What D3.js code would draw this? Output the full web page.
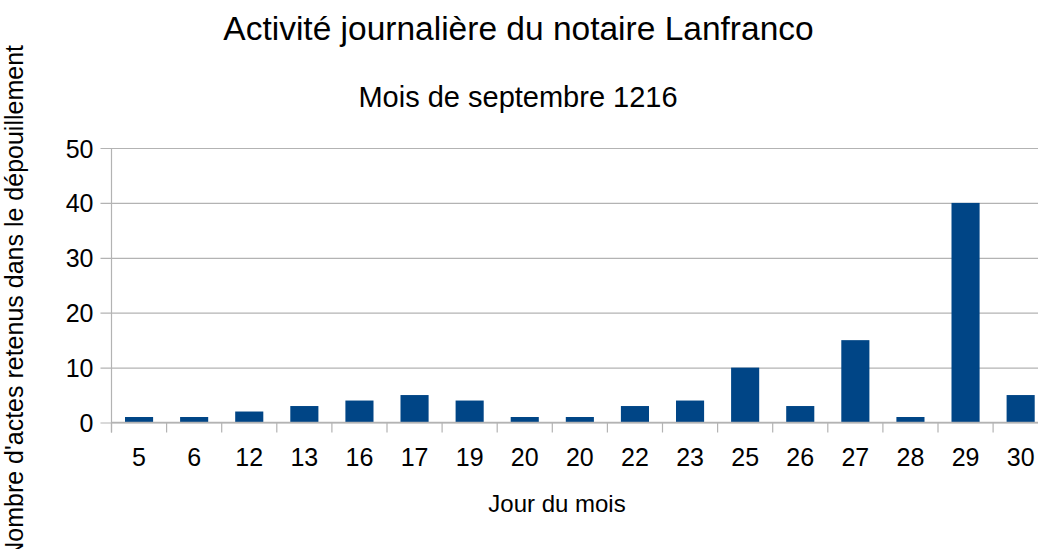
<!DOCTYPE html>
<html>
<head>
<meta charset="utf-8">
<script src="https://cdn.jsdelivr.net/npm/d3@7"></script>
<style>
  body { margin: 0; background: #fff; overflow: hidden; }
  svg { display: block; font-family: "Liberation Sans", Arial, sans-serif; }
</style>
</head>
<body>
<div id="chart"></div>
<script>
// Data
const days = ["5", "6", "12", "13", "16", "17", "19", "20", "20", "22", "23", "25", "26", "27", "28", "29", "30"];
const counts = [1, 1, 2, 3, 4, 5, 4, 1, 1, 3, 4, 10, 3, 15, 1, 40, 5];
const yTicks = [0, 10, 20, 30, 40, 50];

// SVG Variables
const width = 1038;
const height = 549;
const plotLeft = 111.5;
const plotTop = 148;
const plotBottom = 422.5;
const step = 55.1;
const plotRight = plotLeft + step * days.length; // runs past the window edge, like the reference
const gridColor = "#b3b3b3";
const barColor = "#004586";

const svg = d3
  .select("#chart")
  .append("svg")
  .attr("width", width)
  .attr("height", height);

// Scales
const xScale = d3
  .scaleBand()
  .domain(days.map((d, i) => i)) // index domain, "20" appears twice
  .range([plotLeft, plotRight])
  .paddingInner(0.49)
  .paddingOuter(0.245);
const yScale = d3.scaleLinear().domain([0, 50]).range([plotBottom, plotTop]);

// Gridlines + y axis
const yAxis = d3
  .axisLeft(yScale)
  .tickValues(yTicks)
  .tickSize(-(plotRight - plotLeft + 11))
  .tickPadding(8);
const gy = svg
  .append("g")
  .attr("transform", `translate(${plotLeft - 11}, 0)`)
  .call(yAxis);
gy.select(".domain").remove();
gy.selectAll(".tick line").attr("stroke", gridColor).attr("stroke-width", 1.2);
gy.selectAll(".tick text")
  .attr("font-size", 25)
  .attr("fill", "#000")
  .attr("x", -7)
  .attr("dy", "0.36em");

// vertical axis line
svg
  .append("line")
  .attr("x1", plotLeft)
  .attr("x2", plotLeft)
  .attr("y1", plotTop)
  .attr("y2", plotBottom + 10)
  .attr("stroke", gridColor)
  .attr("stroke-width", 1.2);

// Bars
svg
  .selectAll("rect.bar")
  .data(counts)
  .enter()
  .append("rect")
  .attr("class", "bar")
  .attr("x", (d, i) => xScale(i))
  .attr("y", (d) => yScale(d))
  .attr("width", xScale.bandwidth())
  .attr("height", (d) => yScale(0) - yScale(d))
  .attr("fill", barColor);

// X axis (labels centred on bands, ticks on band boundaries)
const xAxis = d3
  .axisBottom(xScale)
  .tickFormat((i) => days[i])
  .tickSize(0)
  .tickPadding(0);
const gx = svg
  .append("g")
  .attr("transform", `translate(0, ${plotBottom})`)
  .call(xAxis);
gx.select(".domain").remove();
gx.selectAll(".tick text")
  .attr("font-size", 25)
  .attr("fill", "#000")
  .attr("y", 43.5)
  .attr("dy", 0);

svg
  .append("line")
  .attr("x1", plotLeft)
  .attr("x2", plotRight)
  .attr("y1", plotBottom)
  .attr("y2", plotBottom)
  .attr("stroke", gridColor)
  .attr("stroke-width", 1.5);

svg
  .selectAll("line.xtick")
  .data(d3.range(days.length + 1))
  .enter()
  .append("line")
  .attr("class", "xtick")
  .attr("x1", (i) => plotLeft + i * xScale.step())
  .attr("x2", (i) => plotLeft + i * xScale.step())
  .attr("y1", plotBottom)
  .attr("y2", plotBottom + 10)
  .attr("stroke", gridColor)
  .attr("stroke-width", 1.2);

// Titles
svg
  .append("text")
  .attr("x", 518.5)
  .attr("y", 40)
  .attr("text-anchor", "middle")
  .attr("font-size", 33.5)
  .text("Activité journalière du notaire Lanfranco");
svg
  .append("text")
  .attr("x", 518)
  .attr("y", 107)
  .attr("text-anchor", "middle")
  .attr("font-size", 29)
  .text("Mois de septembre 1216");

// Axes Labels
svg
  .append("text")
  .attr("x", 557)
  .attr("y", 512)
  .attr("text-anchor", "middle")
  .attr("font-size", 24)
  .text("Jour du mois");
svg
  .append("text")
  .attr("transform", "translate(22.5, 45) rotate(-90)")
  .attr("text-anchor", "end")
  .attr("font-size", 25)
  .text("Nombre d'actes retenus dans le dépouillement");
</script>
</body>
</html>
